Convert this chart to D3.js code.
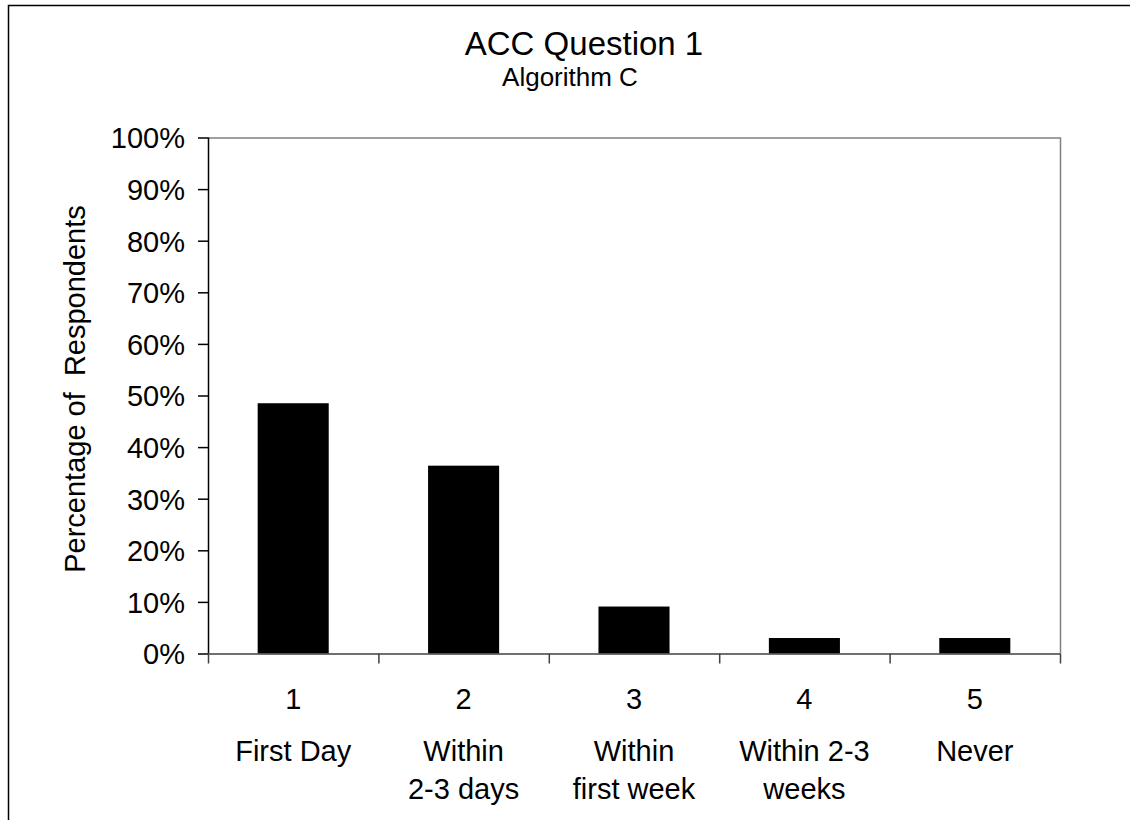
<!DOCTYPE html>
<html>
<head>
<meta charset="utf-8">
<script src="https://cdn.jsdelivr.net/npm/d3@7"></script>
<style>
  body { margin: 0; background: #fff; }
  text { font-family: 'Liberation Sans', Arial, sans-serif; fill: #000; }
</style>
</head>
<body>
<script>
const categories = ['1', '2', '3', '4', '5']
const labels = [['First Day'], ['Within', '2-3 days'], ['Within', 'first week'], ['Within 2-3', 'weeks'], ['Never']]
const values = [48.5, 36.4, 9.1, 3.0, 3.0]
const yTicks = [0, 10, 20, 30, 40, 50, 60, 70, 80, 90, 100]

const margin = { top: 137.5, right: 70, bottom: 166.5, left: 208 }
const W = 1130, H = 820
const width = W - margin.left - margin.right
const height = H - margin.top - margin.bottom
const fs = '29px'

const root = d3.select('body').append('svg')
  .attr('width', W)
  .attr('height', H)

root.append('rect')
  .attr('x', 8.5).attr('y', 5.5)
  .attr('width', W + 10).attr('height', H + 10)
  .style('fill', 'none')
  .style('stroke', '#000')
  .style('stroke-width', 1.5)

root.append('text')
  .attr('x', 584).attr('y', 55)
  .style('text-anchor', 'middle')
  .style('font-size', '33px')
  .text('ACC Question 1')

root.append('text')
  .attr('x', 570).attr('y', 86)
  .style('text-anchor', 'middle')
  .style('font-size', '26px')
  .text('Algorithm C')

const svg = root.append('g')
  .attr('transform', `translate(${margin.left}, ${margin.top})`)

const xScale = d3.scaleBand()
  .domain(categories)
  .range([0, width])
  .paddingInner(0.583)
  .paddingOuter(0.2915)

const xBounds = d3.scaleLinear()
  .domain([0, categories.length])
  .range([0, width])

const yScale = d3.scaleLinear()
  .domain([0, 100])
  .range([height, 0])

// plot frame (top and right)
svg.append('path')
  .attr('d', `M0,0.5H${width + 0.5}V${height}`)
  .style('fill', 'none')
  .style('stroke', '#808080')
  .style('stroke-width', 1.5)

svg.selectAll('.bar')
  .data(values)
  .enter().append('rect')
  .attr('class', 'bar')
  .attr('x', (d, i) => xScale(categories[i]))
  .attr('y', d => yScale(d))
  .attr('width', xScale.bandwidth())
  .attr('height', d => height - yScale(d))
  .style('fill', '#000')

const yAxis = svg.append('g')
  .call(d3.axisLeft(yScale).tickValues(yTicks).tickSize(10).tickPadding(13).tickFormat(d => d + '%'))
yAxis.select('.domain').attr('d', `M0.5,0V${height}`).style('stroke', '#000').style('stroke-width', 1.5)
yAxis.selectAll('.tick line').style('stroke', '#000').style('stroke-width', 1.5)
yAxis.selectAll('.tick text')
  .style('font-size', fs)
  .attr('dy', '0.36em')

const xAxis = svg.append('g')
  .attr('transform', `translate(0, ${height})`)
  .call(d3.axisBottom(xBounds).tickValues(d3.range(categories.length + 1)).tickSize(10).tickFormat(''))
xAxis.select('.domain').attr('d', `M0,0.5H${width}`).style('stroke', '#404040').style('stroke-width', 1.5)
xAxis.selectAll('.tick line').style('stroke', '#404040').style('stroke-width', 1.5)

const catLabels = svg.selectAll('.cat')
  .data(categories)
  .enter().append('g')
  .attr('class', 'cat')
  .attr('transform', d => `translate(${xScale(d) + xScale.bandwidth() / 2}, ${height})`)

catLabels.append('text')
  .attr('y', 55)
  .style('text-anchor', 'middle')
  .style('font-size', fs)
  .text(d => d)

catLabels.each(function (d, i) {
  d3.select(this).selectAll('.line')
    .data(labels[i])
    .enter().append('text')
    .attr('class', 'line')
    .attr('y', (t, j) => 107 + j * 38)
    .style('text-anchor', 'middle')
    .style('font-size', fs)
    .text(t => t)
})

root.append('text')
  .attr('transform', `translate(85, 389) rotate(-90)`)
  .style('text-anchor', 'middle')
  .style('font-size', fs)
  .attr('xml:space', 'preserve')
  .text('Percentage of  Respondents')
</script>
</body>
</html>
